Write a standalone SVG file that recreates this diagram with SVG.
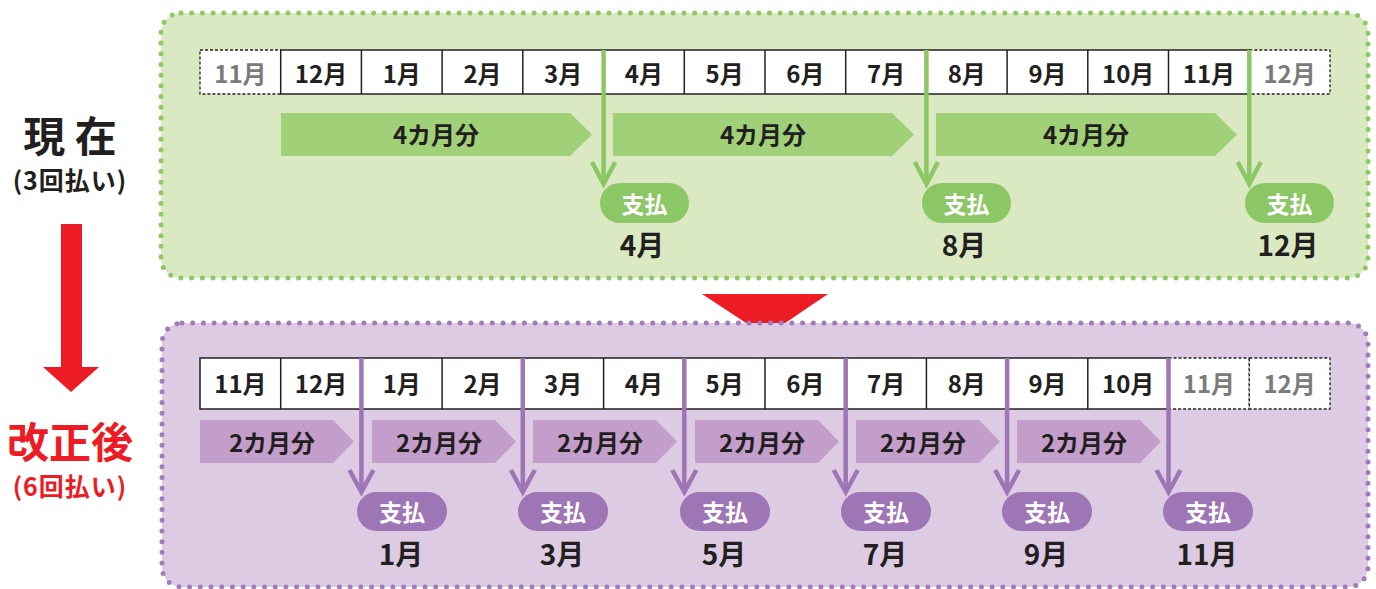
<svg xmlns="http://www.w3.org/2000/svg" width="1376" height="589" viewBox="0 0 1376 589">
<style>
text{font-family:"Noto Sans CJK JP","Noto Sans",sans-serif;font-weight:700;text-anchor:middle;fill:#231f20}
.cell{font-size:24px}
.grey{fill:#7b7b7b}
.solid{fill:#fff;stroke:#231f20;stroke-width:1.5}
.dash{fill:#fff;stroke:#231f20;stroke-width:1.3;stroke-dasharray:3 2}
.vl{stroke:#231f20;stroke-width:1.5}
.bar{font-size:24px}
.pilltxt{font-size:23px;fill:#fff}
.mon{font-size:28px}
.gpanel{fill:#dbe9c3;stroke:#8dc965;stroke-width:5;stroke-linecap:round;stroke-dasharray:0 10.7}
.ppanel{fill:#ddcbe4;stroke:#a27bb9;stroke-width:5;stroke-linecap:round;stroke-dasharray:0 10.7}
.gbar{fill:#a0d077}
.pbar{fill:#c49ecb}
.gpill{fill:#8cc765}
.ppill{fill:#9e76b5}
.garr{fill:none;stroke:#8cc765;stroke-width:4.5}
.parr{fill:none;stroke:#9e76b5;stroke-width:4.5}
.sub{font-size:25px;letter-spacing:1px}
</style>

<g id="labels">
<text x="70" y="152" style="font-size:42px">現 在</text>
<text x="70" y="190" class="sub">(3回払い)</text>
<text x="70" y="458" style="font-size:42px;fill:#ed1c24">改正後</text>
<text x="70" y="496" class="sub" style="fill:#ed1c24">(6回払い)</text>
</g>

<g id="red-arrow">
<polygon points="61,224 82,224 82,367 99,367 71,392 43,367 61,367" fill="#ed1c24"/>
<polygon points="702,294 828,294 766,336" fill="#ed1c24"/>
</g>

<g id="panel-current">
<rect x="161" y="13" width="1207" height="265" rx="20" class="gpanel"/>
</g>
<g id="panel-revised">
<rect x="162" y="323" width="1206" height="264" rx="20" class="ppanel"/>
</g>

<g id="table-current">
<rect x="200" y="50" width="80.7" height="44" class="dash"/>
<rect x="1249.3" y="50" width="80.7" height="44" class="dash"/>
<rect x="280.7" y="50" width="968.6" height="44" class="solid"/>
<line x1="361.4" y1="50" x2="361.4" y2="94" class="vl"/>
<line x1="442.1" y1="50" x2="442.1" y2="94" class="vl"/>
<line x1="522.8" y1="50" x2="522.8" y2="94" class="vl"/>
<line x1="603.6" y1="50" x2="603.6" y2="94" class="vl"/>
<line x1="684.3" y1="50" x2="684.3" y2="94" class="vl"/>
<line x1="765" y1="50" x2="765" y2="94" class="vl"/>
<line x1="845.7" y1="50" x2="845.7" y2="94" class="vl"/>
<line x1="926.4" y1="50" x2="926.4" y2="94" class="vl"/>
<line x1="1007.1" y1="50" x2="1007.1" y2="94" class="vl"/>
<line x1="1087.8" y1="50" x2="1087.8" y2="94" class="vl"/>
<line x1="1168.5" y1="50" x2="1168.5" y2="94" class="vl"/>
<text x="240.4" y="83" class="cell grey">11月</text>
<text x="321" y="83" class="cell">12月</text>
<text x="401.8" y="83" class="cell">1月</text>
<text x="482.5" y="83" class="cell">2月</text>
<text x="563.2" y="83" class="cell">3月</text>
<text x="643.9" y="83" class="cell">4月</text>
<text x="724.6" y="83" class="cell">5月</text>
<text x="805.4" y="83" class="cell">6月</text>
<text x="886.1" y="83" class="cell">7月</text>
<text x="966.8" y="83" class="cell">8月</text>
<text x="1047.5" y="83" class="cell">9月</text>
<text x="1128.2" y="83" class="cell">10月</text>
<text x="1208.9" y="83" class="cell">11月</text>
<text x="1289.6" y="83" class="cell grey">12月</text>
</g>

<g id="bars-current">
<polygon points="281,113 570,113 592,134.5 570,156 281,156" class="gbar"/>
<polygon points="613,113 892,113 914,134.5 892,156 613,156" class="gbar"/>
<polygon points="936,113 1215,113 1237,134.5 1215,156 936,156" class="gbar"/>
<text x="436" y="144" class="bar">4カ月分</text>
<text x="763" y="144" class="bar">4カ月分</text>
<text x="1086" y="144" class="bar">4カ月分</text>
</g>

<g id="pay-current">
<rect x="600" y="183" width="89" height="40" rx="20" class="gpill"/>
<rect x="922" y="183" width="89" height="40" rx="20" class="gpill"/>
<rect x="1245" y="183" width="89" height="40" rx="20" class="gpill"/>
<text x="644.5" y="213" class="pilltxt">支払</text>
<text x="966.5" y="213" class="pilltxt">支払</text>
<text x="1289.5" y="213" class="pilltxt">支払</text>
<text x="642" y="256" class="mon">4月</text>
<text x="964" y="256" class="mon">8月</text>
<text x="1288" y="256" class="mon">12月</text>
</g>

<g id="table-revised">
<rect x="1168.5" y="358" width="80.8" height="51" class="dash"/>
<rect x="1249.3" y="358" width="80.7" height="51" class="dash"/>
<rect x="200" y="358" width="968.5" height="51" class="solid"/>
<line x1="280.7" y1="358" x2="280.7" y2="409" class="vl"/>
<line x1="361.4" y1="358" x2="361.4" y2="409" class="vl"/>
<line x1="442.1" y1="358" x2="442.1" y2="409" class="vl"/>
<line x1="522.8" y1="358" x2="522.8" y2="409" class="vl"/>
<line x1="603.6" y1="358" x2="603.6" y2="409" class="vl"/>
<line x1="684.3" y1="358" x2="684.3" y2="409" class="vl"/>
<line x1="765" y1="358" x2="765" y2="409" class="vl"/>
<line x1="845.7" y1="358" x2="845.7" y2="409" class="vl"/>
<line x1="926.4" y1="358" x2="926.4" y2="409" class="vl"/>
<line x1="1007.1" y1="358" x2="1007.1" y2="409" class="vl"/>
<line x1="1087.8" y1="358" x2="1087.8" y2="409" class="vl"/>
<text x="240.4" y="393" class="cell">11月</text>
<text x="321" y="393" class="cell">12月</text>
<text x="401.8" y="393" class="cell">1月</text>
<text x="482.5" y="393" class="cell">2月</text>
<text x="563.2" y="393" class="cell">3月</text>
<text x="643.9" y="393" class="cell">4月</text>
<text x="724.6" y="393" class="cell">5月</text>
<text x="805.4" y="393" class="cell">6月</text>
<text x="886.1" y="393" class="cell">7月</text>
<text x="966.8" y="393" class="cell">8月</text>
<text x="1047.5" y="393" class="cell">9月</text>
<text x="1128.2" y="393" class="cell">10月</text>
<text x="1208.9" y="393" class="cell grey">11月</text>
<text x="1289.6" y="393" class="cell grey">12月</text>
</g>

<g id="bars-revised">
<polygon points="200,420 333,420 354,441.5 333,463 200,463" class="pbar"/>
<polygon points="372,420 495,420 516,441.5 495,463 372,463" class="pbar"/>
<polygon points="533,420 656,420 677,441.5 656,463 533,463" class="pbar"/>
<polygon points="695,420 818,420 839,441.5 818,463 695,463" class="pbar"/>
<polygon points="856,420 979,420 1000,441.5 979,463 856,463" class="pbar"/>
<polygon points="1017,420 1140,420 1161,441.5 1140,463 1017,463" class="pbar"/>
<text x="272" y="452" class="bar">2カ月分</text>
<text x="439" y="452" class="bar">2カ月分</text>
<text x="600" y="452" class="bar">2カ月分</text>
<text x="762" y="452" class="bar">2カ月分</text>
<text x="923" y="452" class="bar">2カ月分</text>
<text x="1084" y="452" class="bar">2カ月分</text>
</g>

<g id="pay-revised">
<rect x="357" y="492" width="90" height="39" rx="19.5" class="ppill"/>
<rect x="518" y="492" width="90" height="39" rx="19.5" class="ppill"/>
<rect x="680" y="492" width="90" height="39" rx="19.5" class="ppill"/>
<rect x="841" y="492" width="90" height="39" rx="19.5" class="ppill"/>
<rect x="1002" y="492" width="90" height="39" rx="19.5" class="ppill"/>
<rect x="1163" y="492" width="90" height="39" rx="19.5" class="ppill"/>
<text x="402" y="521" class="pilltxt">支払</text>
<text x="563" y="521" class="pilltxt">支払</text>
<text x="725" y="521" class="pilltxt">支払</text>
<text x="886" y="521" class="pilltxt">支払</text>
<text x="1047" y="521" class="pilltxt">支払</text>
<text x="1208" y="521" class="pilltxt">支払</text>
<text x="401" y="565" class="mon">1月</text>
<text x="562" y="565" class="mon">3月</text>
<text x="724" y="565" class="mon">5月</text>
<text x="885" y="565" class="mon">7月</text>
<text x="1046" y="565" class="mon">9月</text>
<text x="1207" y="565" class="mon">11月</text>
</g>

<g id="connectors">
<line x1="603.6" y1="50" x2="603.6" y2="183" class="garr"/>
<polyline points="592,162 603.6,184 615.2,162" class="garr"/>
<line x1="926.4" y1="50" x2="926.4" y2="183" class="garr"/>
<polyline points="914.8,162 926.4,184 938,162" class="garr"/>
<line x1="1249.3" y1="50" x2="1249.3" y2="183" class="garr"/>
<polyline points="1237.7,162 1249.3,184 1260.9,162" class="garr"/>

<line x1="361.4" y1="358" x2="361.4" y2="491" class="parr"/>
<polyline points="349.4,470 361.4,492 373.4,470" class="parr"/>
<line x1="522.8" y1="358" x2="522.8" y2="491" class="parr"/>
<polyline points="510.8,470 522.8,492 534.8,470" class="parr"/>
<line x1="684.3" y1="358" x2="684.3" y2="491" class="parr"/>
<polyline points="672.3,470 684.3,492 696.3,470" class="parr"/>
<line x1="845.7" y1="358" x2="845.7" y2="491" class="parr"/>
<polyline points="833.7,470 845.7,492 857.7,470" class="parr"/>
<line x1="1007.1" y1="358" x2="1007.1" y2="491" class="parr"/>
<polyline points="995.1,470 1007.1,492 1019.1,470" class="parr"/>
<line x1="1168.5" y1="358" x2="1168.5" y2="491" class="parr"/>
<polyline points="1156.5,470 1168.5,492 1180.5,470" class="parr"/>
</g>
</svg>
